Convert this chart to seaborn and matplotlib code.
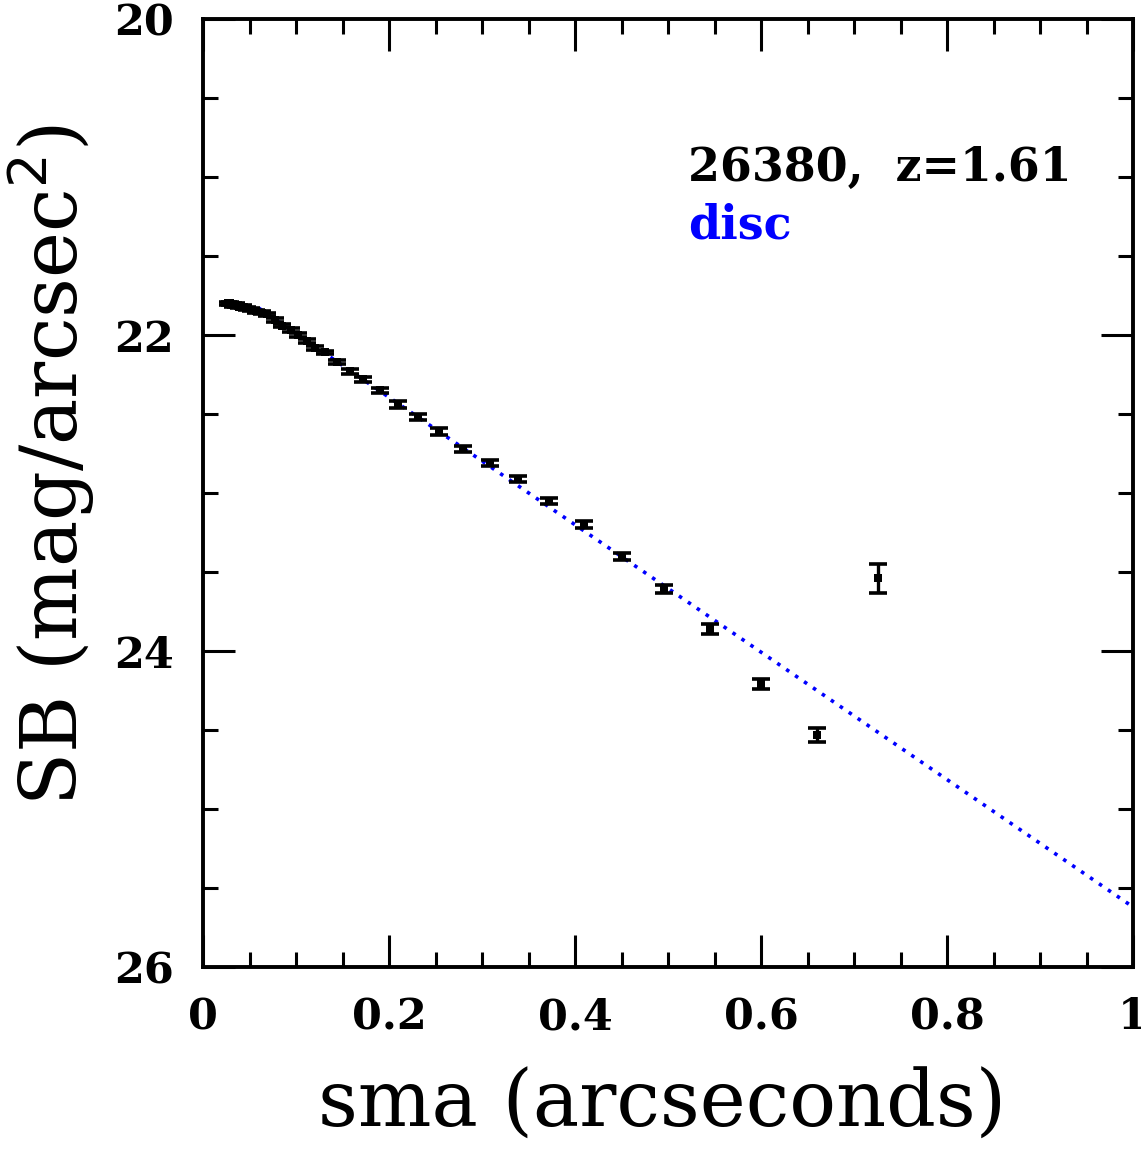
import numpy as np
import pandas as pd
import matplotlib
matplotlib.use("Agg")
import matplotlib.pyplot as plt
from matplotlib.ticker import MultipleLocator
import seaborn as sns

# surface brightness profile, galaxy 26380
sma = [0.0265, 0.029, 0.032, 0.035, 0.039, 0.043, 0.047, 0.052, 0.057, 0.063,
       0.069, 0.077, 0.085, 0.094, 0.102, 0.112, 0.120, 0.131, 0.144, 0.158,
       0.172, 0.190, 0.210, 0.231, 0.254, 0.280, 0.308, 0.339, 0.372, 0.410,
       0.451, 0.496, 0.545, 0.600, 0.660, 0.726]
sb = [21.80, 21.80, 21.81, 21.81, 21.82, 21.82, 21.83, 21.84, 21.85, 21.86,
      21.87, 21.905, 21.94, 21.97, 22.00, 22.04, 22.08, 22.11, 22.17, 22.23,
      22.28, 22.35, 22.44, 22.52, 22.61, 22.72, 22.81, 22.91, 23.05, 23.20,
      23.40, 23.61, 23.86, 24.21, 24.53, 23.54]
sb_err = [0.01, 0.01, 0.01, 0.01, 0.01, 0.01, 0.01, 0.01, 0.01, 0.01,
          0.012, 0.012, 0.012, 0.012, 0.012, 0.012, 0.012, 0.012, 0.015, 0.015,
          0.015, 0.015, 0.02, 0.02, 0.02, 0.02, 0.02, 0.02, 0.02, 0.02,
          0.022, 0.025, 0.03, 0.03, 0.045, 0.09]

# exponential disc model (straight line in mag)
disc_sma = [0.06, 1.0]
disc_sb = [21.83, 25.62]

df = pd.DataFrame({"sma": sma, "sb": sb, "err": sb_err})
disc = pd.DataFrame({"sma": disc_sma, "sb": disc_sb})

sns.set_style("ticks")
plt.rcParams["font.family"] = ["DejaVu Serif"]
plt.rcParams["text.color"] = "black"
plt.rcParams["axes.labelcolor"] = "black"
plt.rcParams["xtick.color"] = "black"
plt.rcParams["ytick.color"] = "black"

fig = plt.figure(figsize=(11.41, 11.53), dpi=100)
ax = fig.add_axes([0.178, 0.1613, 0.815, 0.8222])

sns.lineplot(data=disc, x="sma", y="sb", ax=ax, color="#0000ff", lw=2.6,
             linestyle=(0, (1.0, 2.0)), zorder=2)
ax.errorbar(df["sma"], df["sb"], yerr=df["err"], fmt="none", ecolor="black",
            elinewidth=2.4, capsize=6.5, capthick=2.6, zorder=3)
sns.scatterplot(data=df, x="sma", y="sb", ax=ax, marker="s", s=40,
                color="black", edgecolor="black", linewidth=0, zorder=4)

ax.set_xlim(0, 1)
ax.set_ylim(26, 20)
ax.xaxis.set_major_locator(MultipleLocator(0.2))
ax.xaxis.set_minor_locator(MultipleLocator(0.05))
ax.yaxis.set_major_locator(MultipleLocator(2))
ax.yaxis.set_minor_locator(MultipleLocator(0.5))
ax.set_xticks([0, 0.2, 0.4, 0.6, 0.8, 1.0])
ax.set_xticklabels(["0", "0.2", "0.4", "0.6", "0.8", "1"])

ax.tick_params(which="both", direction="in", top=True, right=True,
               width=2.2, color="black", labelcolor="black")
ax.tick_params(which="major", length=23, pad=21, labelsize=31)
ax.tick_params(which="minor", length=11)
for lab in ax.get_xticklabels() + ax.get_yticklabels():
    lab.set_fontweight("bold")
for sp in ax.spines.values():
    sp.set_linewidth(2.8)
    sp.set_color("black")

ax.set_xlabel("sma (arcseconds)", fontsize=56, color="black")
ax.set_ylabel("SB (mag/arcsec$^2$)", fontsize=56, color="black")
ax.xaxis.label.set_va("center")
ax.yaxis.label.set_va("center")
ax.xaxis.set_label_coords(0.494, -0.145)
ax.yaxis.set_label_coords(-0.163, 0.529)

ax.text(0.5215, 0.829, "26380,  z=1.61", transform=ax.transAxes,
        fontsize=33, fontweight="bold", color="black")
ax.text(0.5215, 0.768, "disc", transform=ax.transAxes,
        fontsize=33, fontweight="bold", color="#0000ff")

fig.savefig("out.png", dpi=100, facecolor="white")
